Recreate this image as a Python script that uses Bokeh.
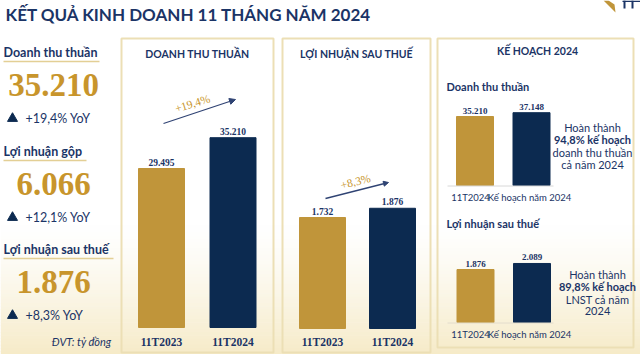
import numpy as np
from bokeh.plotting import figure
from bokeh.models import Range1d, Arrow, NormalHead, ColumnDataSource
from bokeh.core.properties import value
from bokeh.embed import file_html
from bokeh.resources import INLINE

# ---------------- data ----------------
title = "KẾT QUẢ KINH DOANH 11 THÁNG NĂM 2024"
kpi_names = ["Doanh thu thuần", "Lợi nhuận gộp", "Lợi nhuận sau thuế"]
kpi_values = ["35.210", "6.066", "1.876"]
kpi_yoy = ["+19,4% YoY", "+12,1% YoY", "+8,3% YoY"]
unit_note = "ĐVT: tỷ đồng"

years = ["11T2023", "11T2024"]
revenue = [29495, 35210]
revenue_growth = "+19,4%"
profit = [1732, 1876]
profit_growth = "+8,3%"

plan_title = "KẾ HOẠCH 2024"
plan_cats = ["11T2024", "Kế hoạch năm 2024"]
plan_revenue = [35210, 37148]
plan_profit = [1876, 2089]
plan_rev_note = ["Hoàn thành", "94,8% kế hoạch", "doanh thu thuần", "cả năm 2024"]
plan_pro_note = ["Hoàn thành", "89,8% kế hoạch", "LNST cả năm", "2024"]


def vn(n):
    return f"{n:,}".replace(",", ".")


# ---------------- styles ----------------
W, H = 640, 354
NAVY = "#0c2a50"
NAVY_T = "#1b3466"
GOLD = "#c0953a"
GOLD_T = "#c8952c"
BORDER = "#ecdfb5"
SANS = "Lato"
SERIF = "Liberation Serif"

p = figure(width=W, height=H, x_range=Range1d(0, W), y_range=Range1d(H, 0),
           output_backend="svg", toolbar_location=None, min_border=0)
p.axis.visible = False
p.grid.visible = False
p.outline_line_color = None
p.background_fill_color = "white"
p.border_fill_color = "white"


def txt(x, y, s, size, color=NAVY_T, font=SANS, style="normal", align="left",
        baseline="middle", angle=0, **kw):
    p.text(x=[x], y=[y], text=[s], text_font=value(font), text_font_size=f"{size}px",
           text_font_style=style, text_color=color, text_align=align,
           text_baseline=baseline, angle=angle, **kw)


# background gradient (cream toward bottom)
g0, g1 = 225, H
n = 40
ys = np.linspace(g0, g1, n + 1)
c0 = np.array([255, 255, 255])
c1 = np.array([246, 235, 200])
cols = []
for i in range(n):
    t = ((i + 0.5) / n) ** 1.3
    c = (c0 + (c1 - c0) * t).astype(int)
    cols.append("#%02x%02x%02x" % tuple(c))
p.quad(left=[0] * n, right=[W] * n, top=list(ys[:-1]), bottom=list(ys[1:] + 0.6),
       fill_color=cols, line_color=None)

# logo fragment (shapes only)
p.patch(x=[603, 615, 614, 608], y=[0, 12, 4, 0], fill_color=GOLD, line_color=None)
p.quad(left=[623, 631, 622], right=[625, 633, 640], top=[0, 0, 0], bottom=[8, 8, 1.5],
       fill_color=NAVY_T, line_color=None)

# title
txt(5, 14, title, 17, color=NAVY_T, style="bold")

# ---------------- left KPI column ----------------
kpi_y = [52, 151, 249]
ul_x = [99, 86, 113]
big_sizes = [33, 33, 33]
for i in range(3):
    y = kpi_y[i]
    txt(3, y, kpi_names[i], 12.5, style="bold")
    p.segment(x0=[3], y0=[y + 9], x1=[ul_x[i]], y1=[y + 9], line_color="#e3cf95", line_width=1.5)
    txt(53, y + 32, kpi_values[i], big_sizes[i], color=GOLD_T, font=SERIF, style="bold",
        align="center")
    p.scatter(x=[12], y=[y + 66], marker="triangle", size=10, fill_color=NAVY, line_color=NAVY)
    txt(25, y + 66, kpi_yoy[i], 12.5, color=NAVY_T)
txt(111, 341, unit_note, 11, color=NAVY_T, style="italic", align="right")

# panels
for (l, r, t, b) in [(121, 273, 38, 352), (282, 430, 38, 352), (437, 633, 38, 347)]:
    p.quad(left=[l], right=[r], top=[t], bottom=[b], fill_color=None,
           line_color=BORDER, line_width=2)


# ---------------- bar helpers ----------------
def bar_chart(name, vals, centers, width, base_px, px_per_unit, colors, lab_font, lab_size,
              lab_style="bold"):
    # extra range so that 0 sits at base_px and value scale = px_per_unit
    start = (base_px - H) / px_per_unit
    end = base_px / px_per_unit
    p.extra_y_ranges[name] = Range1d(start=start, end=end)
    src = ColumnDataSource(dict(x=centers, top=vals, c=colors,
                                lab=[vn(v) for v in vals]))
    p.vbar(x="x", top="top", bottom=0, width=width, fill_color="c", line_color="c",
           source=src, y_range_name=name)
    p.text(x="x", y="top", text="lab", source=src, y_range_name=name,
           text_font=value(lab_font), text_font_size=f"{lab_size}px",
           text_font_style=lab_style, text_color=NAVY_T, text_align="center",
           text_baseline="bottom", y_offset=-3)


# panel 1: revenue
txt(197, 53, "DOANH THU THUẦN", 10.5, style="bold", align="center")
bar_chart("rev", revenue, [161, 232.5], 46, 327, 159 / 29495, [GOLD, NAVY], SERIF, 9.5)
for x, c in zip([161, 232.5], years):
    txt(x, 341, c, 11.5, font=SERIF, style="bold", align="center")
p.add_layout(Arrow(end=NormalHead(size=6, fill_color="#2f4373", line_color="#2f4373"),
                   x_start=163, y_start=123, x_end=235, y_end=99,
                   line_color="#2f4373", line_width=1.3))
txt(192, 103, revenue_growth, 11.5, color=GOLD_T, font=SERIF, align="center", angle=0.3)

# panel 2: profit
txt(356, 53, "LỢI NHUẬN SAU THUẾ", 10.5, style="bold", align="center")
bar_chart("pro", profit, [322, 392], 46, 328, 111 / 1732, [GOLD, NAVY], SERIF, 9.5)
for x, c in zip([322, 392], years):
    txt(x, 341, c, 11.5, font=SERIF, style="bold", align="center")
p.add_layout(Arrow(end=NormalHead(size=5, fill_color="#2f4373", line_color="#2f4373"),
                   x_start=325, y_start=198, x_end=388, y_end=182,
                   line_color="#2f4373", line_width=1.3))
txt(355, 181, profit_growth, 11.5, color=GOLD_T, font=SERIF, align="center", angle=0.25)

# panel 3: plan
txt(537, 50, plan_title, 10.5, style="bold", align="center")
txt(446, 86, "Doanh thu thuần", 11, style="bold")
bar_chart("prev", plan_revenue, [474.5, 531], 37, 185, 69 / 35210, [GOLD, NAVY], SERIF, 9)
p.segment(x0=[447], y0=[185.5], x1=[553], y1=[185.5], line_color="#d8d8d8", line_width=1)
txt(470, 197, plan_cats[0], 9.5, align="center")
txt(529, 197, plan_cats[1], 9.5, align="center")
for k, s in enumerate(plan_rev_note):
    txt(592, 127 + k * 12.4, s, 11, align="center",
        style="bold" if k == 1 else "normal")

txt(446, 223, "Lợi nhuận sau thuế", 11, style="bold")
bar_chart("ppro", plan_profit, [475, 531.5], 37, 322, 53 / 1876, [GOLD, NAVY], SERIF, 9)
p.segment(x0=[447], y0=[322.5], x1=[553], y1=[322.5], line_color="#e2dccb", line_width=1)
txt(470, 334, plan_cats[0], 9.5, align="center")
txt(529, 334, plan_cats[1], 9.5, align="center")
for k, s in enumerate(plan_pro_note):
    txt(597, 274 + k * 12.3, s, 11, align="center",
        style="bold" if k == 1 else "normal")

open("out.html", "w").write(file_html(p, INLINE))
